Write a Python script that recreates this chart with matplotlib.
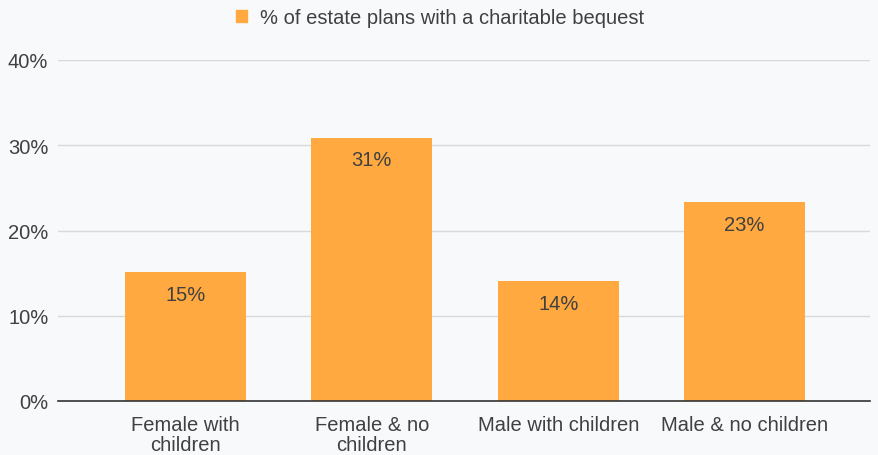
import matplotlib.pyplot as plt
from matplotlib.patches import Patch

categories = ["Female with\nchildren", "Female & no\nchildren", "Male with children", "Male & no children"]
values = [15.1, 30.9, 14.1, 23.3]
series_name = "% of estate plans with a charitable bequest"
yticks = [0, 10, 20, 30, 40]

bg = "#f8f9fb"
bar_color = "#ffa940"
text_color = "#404040"
fs = 14.5

plt.rcParams['font.family'] = ['Liberation Sans', 'DejaVu Sans']

fig = plt.figure(figsize=(8.79, 4.56), dpi=100, facecolor=bg)
ax = fig.add_axes([58 / 879, 54 / 456, 812 / 879, 341 / 456], facecolor=bg)

x = range(len(categories))
bars = ax.bar(x, values, width=0.65, color=bar_color, zorder=3)

for b, v in zip(bars, values):
    ax.text(b.get_x() + b.get_width() / 2, v - 1.5, f"{v:.0f}%",
            ha="center", va="top", fontsize=fs, color=text_color, zorder=4)

ax.set_ylim(0, 40)
ax.set_xlim(-0.684, 3.673)
ax.set_yticks(yticks)
ax.set_yticklabels([f"{t}%" for t in yticks], fontsize=fs, color=text_color)
ax.set_xticks(list(x))
ax.set_xticklabels(categories, fontsize=fs, color=text_color, linespacing=1.05)
ax.tick_params(axis="both", length=0)
ax.tick_params(axis="x", pad=10)
ax.tick_params(axis="y", pad=7)

ax.grid(axis="y", color="#d9d9d9", linewidth=1, zorder=0)
for s in ["top", "right", "left"]:
    ax.spines[s].set_visible(False)
ax.spines["bottom"].set_color("#333333")
ax.spines["bottom"].set_linewidth(1.2)
ax.spines["bottom"].set_zorder(5)

fig.legend(handles=[Patch(color=bar_color, label=series_name)],
           loc="center", bbox_to_anchor=(440 / 879, 1 - 19 / 456),
           frameon=False, fontsize=fs, handlelength=0.55, handleheight=0.55,
           handletextpad=0.6, labelcolor=text_color)

fig.savefig("out.png", dpi=100, facecolor=bg)
